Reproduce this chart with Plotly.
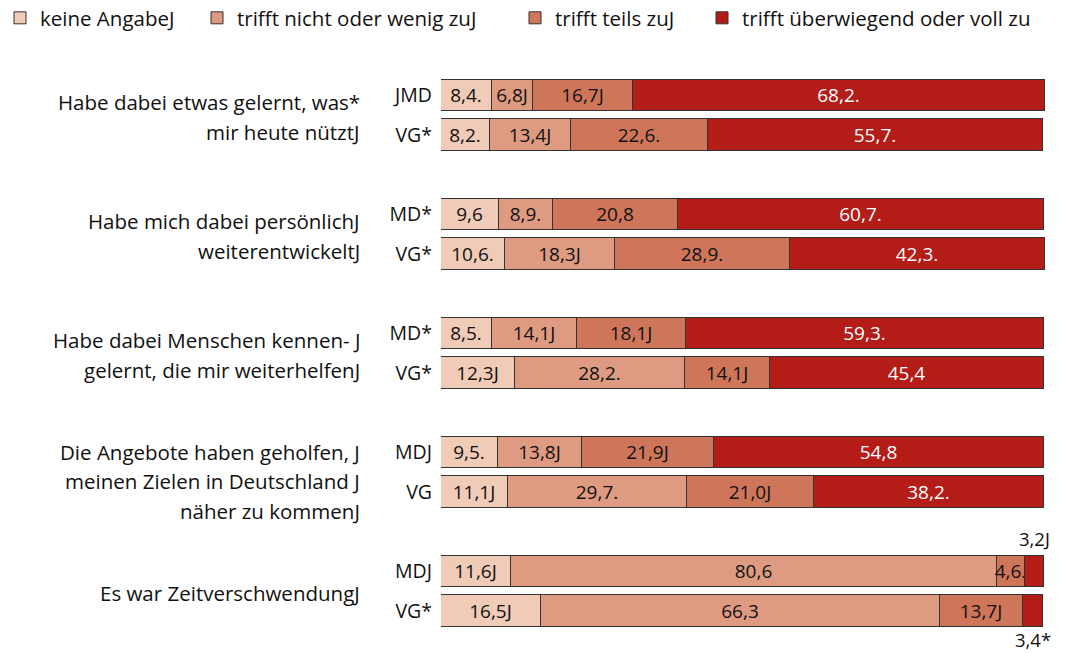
import plotly.graph_objects as go

# ---------------- data ----------------
categories = ["keine AngabeJ", "trifft nicht oder wenig zuJ", "trifft teils zuJ",
              "trifft überwiegend oder voll zu"]

questions = [
    ["Habe dabei etwas gelernt, was*", "mir heute nütztJ"],
    ["Habe mich dabei persönlichJ", "weiterentwickeltJ"],
    ["Habe dabei Menschen kennen- J", "gelernt, die mir weiterhelfenJ"],
    ["Die Angebote haben geholfen, J", "meinen Zielen in Deutschland J", "näher zu kommenJ"],
    ["Es war ZeitverschwendungJ"],
]

row_labels = [["JMD", "VG*"], ["MD*", "VG*"], ["MD*", "VG*"], ["MDJ", "VG"], ["MDJ", "VG*"]]

keine_angabe = [8.4, 8.2, 9.6, 10.6, 8.5, 12.3, 9.5, 11.1, 11.6, 16.5]
nicht_wenig = [6.8, 13.4, 8.9, 18.3, 14.1, 28.2, 13.8, 29.7, 80.6, 66.3]
teils = [16.7, 22.6, 20.8, 28.9, 18.1, 14.1, 21.9, 21.0, 4.6, 13.7]
ueberwiegend = [68.2, 55.7, 60.7, 42.3, 59.3, 45.4, 54.8, 38.2, 3.2, 3.4]

lbl_keine = ["8,4.", "8,2.", "9,6", "10,6.", "8,5.", "12,3J", "9,5.", "11,1J", "11,6J", "16,5J"]
lbl_nicht = ["6,8J", "13,4J", "8,9.", "18,3J", "14,1J", "28,2.", "13,8J", "29,7.", "80,6", "66,3"]
lbl_teils = ["16,7J", "22,6.", "20,8", "28,9.", "18,1J", "14,1J", "21,9J", "21,0J", "4,6.", "13,7J"]
lbl_ueber = ["68,2.", "55,7.", "60,7.", "42,3.", "59,3.", "45,4", "54,8", "38,2.", "", ""]
# small values written outside the bar (above first row / below second row of last group)
outside_labels = {8: ("3,2J", "above"), 9: ("3,4*", "below")}

colors = ["#f0cbb7", "#de9b81", "#cf765a", "#b41c18"]

# ---------------- layout helpers ----------------
ypos = []
ytext = []
for gi, rows in enumerate(row_labels):
    for ri, r in enumerate(rows):
        ypos.append(3 * gi + ri)
        ytext.append(r)

FONT = "Open Sans"
fig = go.Figure()

series = [keine_angabe, nicht_wenig, teils, ueberwiegend]
labels = [lbl_keine, lbl_nicht, lbl_teils, lbl_ueber]
legend_names = ["legend", "legend2", "legend3", "legend4"]
text_colors = ["#111111", "#111111", "#111111", "#ffffff"]

for k in range(4):
    fig.add_trace(go.Bar(
        x=series[k], y=ypos, orientation="h", name=categories[k],
        marker=dict(color=colors[k], line=dict(color="#333333", width=1)),
        width=0.8,
        text=labels[k], textposition="inside", insidetextanchor="middle",
        textangle=0,
        textfont=dict(family=FONT, size=19, color=text_colors[k]),
        cliponaxis=False, constraintext="none",
        legend=legend_names[k], hoverinfo="skip",
    ))

annotations = []
# question labels
for gi, lines in enumerate(questions):
    n = len(lines)
    center = 3 * gi + 0.55 + (0.18 if n == 3 else 0.0)
    step = 0.75
    for li, line in enumerate(lines):
        yy = center + (li - (n - 1) / 2) * step
        annotations.append(dict(
            text=line, x=-0.131, xref="paper", y=yy, yref="y",
            xanchor="right", yanchor="middle", showarrow=False,
            font=dict(family=FONT, size=20.5, color="#111111"),
        ))

# outside small labels (anchored at the bar, shifted above / below it)
for idx, (txt, where) in outside_labels.items():
    xc = keine_angabe[idx] + nicht_wenig[idx] + teils[idx] + ueberwiegend[idx] / 2
    annotations.append(dict(
        text=txt, x=xc, xref="x", y=ypos[idx], yref="y",
        yshift=33 if where == "above" else -28,
        xanchor="center", yanchor="middle", borderpad=0,
        showarrow=False, font=dict(family=FONT, size=18.5, color="#111111"),
    ))

legend_x_px = [-8, 197, 515, 702]
legend_common = dict(orientation="h", xref="container", yref="container",
                     xanchor="left", yanchor="middle", y=1 - 18 / 653,
                     font=dict(family=FONT, size=20.5, color="#111111"),
                     bgcolor="rgba(0,0,0,0)", itemwidth=30)
legends = {}
for k, name in enumerate(legend_names):
    legends[name] = dict(legend_common, x=legend_x_px[k] / 1067)

fig.update_layout(
    width=1067, height=653,
    margin=dict(l=441, r=22, t=60, b=13),
    plot_bgcolor="white", paper_bgcolor="white",
    barmode="stack",
    showlegend=True,
    bargap=0,
    uniformtext=dict(minsize=19, mode="show"),
    xaxis=dict(range=[0, 100.15], visible=False, fixedrange=True),
    yaxis=dict(range=[13.73, -0.895], tickvals=ypos, ticktext=ytext,
               showgrid=False, zeroline=False, showline=False, ticks="",
               ticklabelstandoff=8, fixedrange=True,
               tickfont=dict(family=FONT, size=19.5, color="#111111")),
    annotations=annotations,
    **legends,
)

fig.write_html("out.html", config={"displayModeBar": False},
               post_script="document.body.style.margin='0';document.body.style.overflow='hidden';")
